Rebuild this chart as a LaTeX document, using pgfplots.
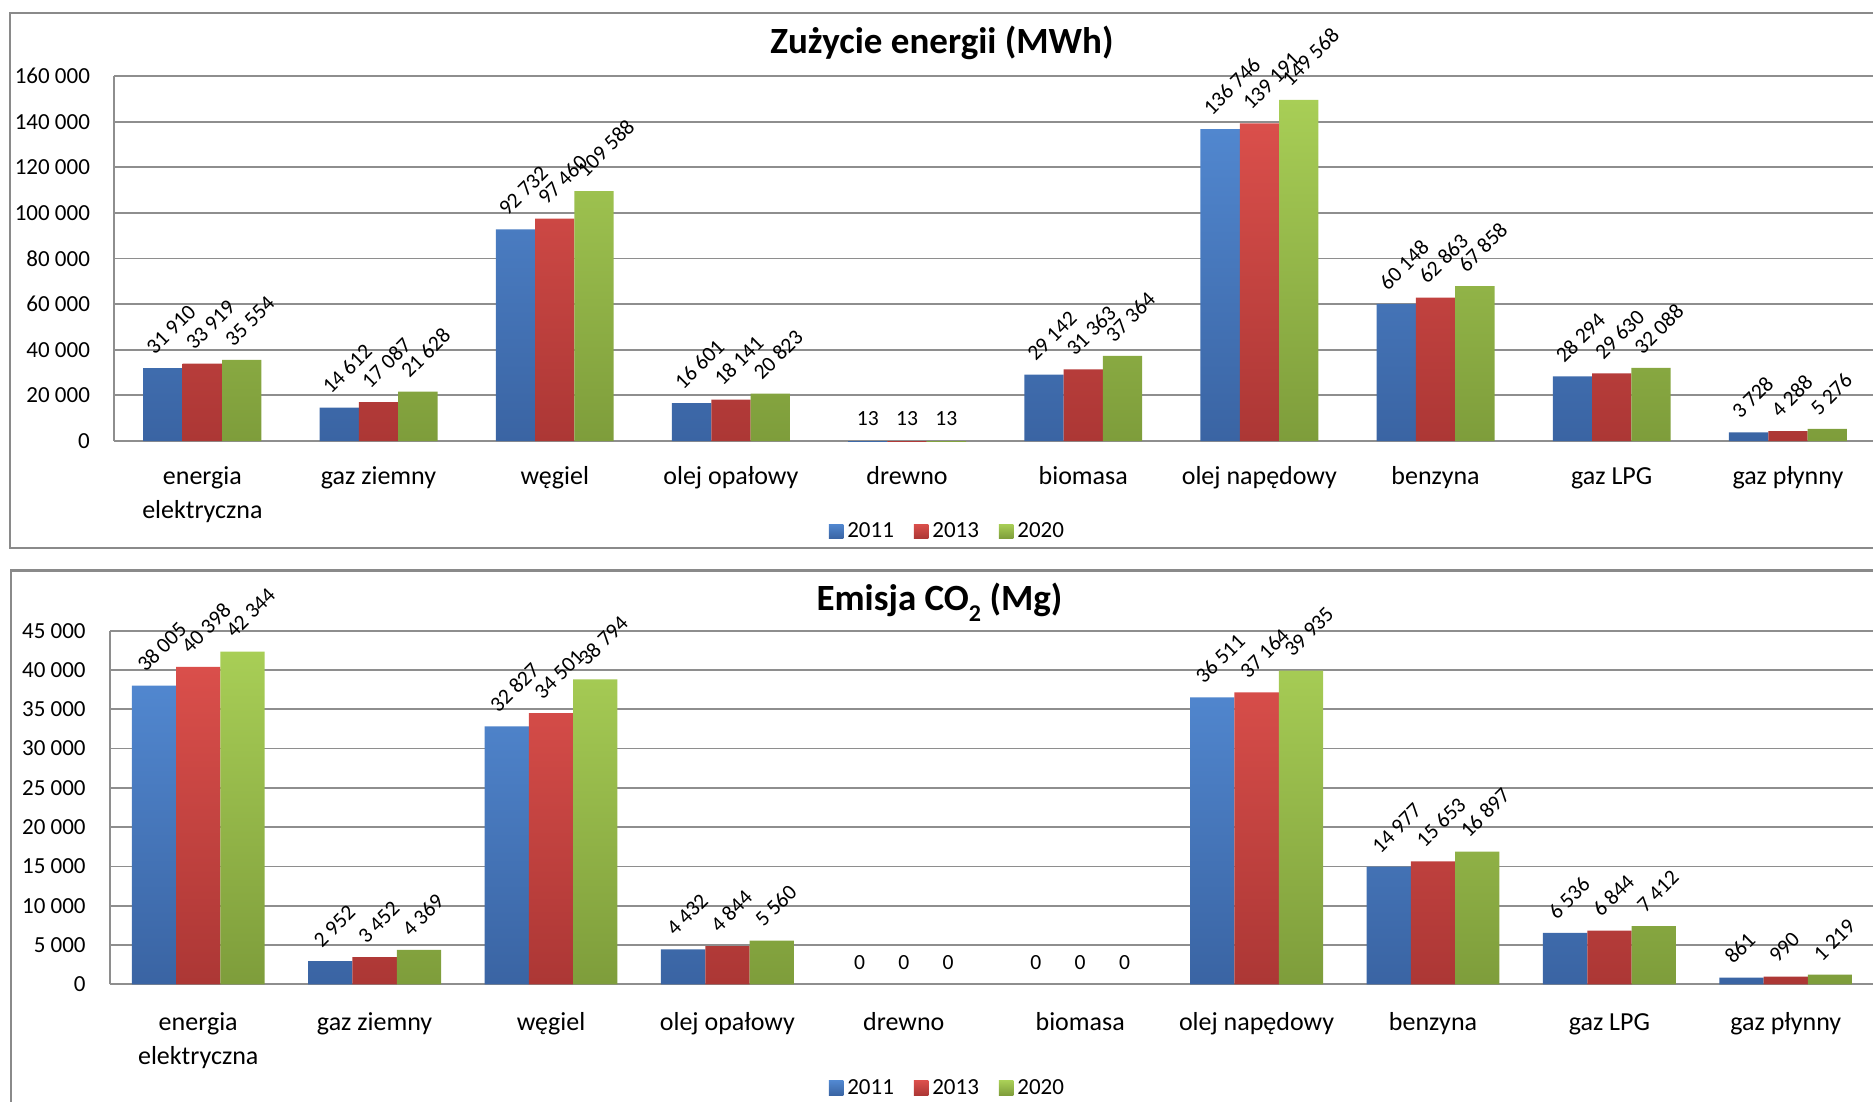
\documentclass[border=0pt]{standalone}
\usepackage{fontspec}
\setmainfont{Carlito}
\usepackage{pgfplots}
\pgfplotsset{compat=1.18}
\usepackage{pgfplotstable}

\definecolor{bT}{HTML}{5187CF}
\definecolor{bB}{HTML}{3A64A3}
\definecolor{rT}{HTML}{DA4F4B}
\definecolor{rB}{HTML}{AC3735}
\definecolor{gT}{HTML}{A8CE56}
\definecolor{gB}{HTML}{7E9D3B}
\definecolor{frame}{HTML}{8A8A8A}
\definecolor{grid}{HTML}{8E8E8E}

% Zużycie energii (MWh)
\pgfplotstableread{
x a b c
0 31910 33919 35554
1 14612 17087 21628
2 92732 97460 109588
3 16601 18141 20823
5 29142 31363 37364
6 136746 139191 149568
7 60148 62863 67858
8 28294 29630 32088
9 3728 4288 5276
}\enMain
\pgfplotstableread{
x a b c
4 13 13 13
}\enFlat

% Emisja CO2 (Mg)
\pgfplotstableread{
x a b c
0 38005 40398 42344
1 2952 3452 4369
2 32827 34501 38794
3 4432 4844 5560
6 36511 37164 39935
7 14977 15653 16897
8 6536 6844 7412
9 861 990 1219
}\coMain
\pgfplotstableread{
x a b c
4 0 0 0
5 0 0 0
}\coFlat

\pgfplotsset{
  panel/.style={
    scale only axis,
    anchor=south west,
    xmin=-0.5, xmax=9.5, ymin=0,
    enlargelimits=false,
    clip=false,
    ybar=0pt,
    xtick={0,...,9},
    xticklabels={{\begin{tabular}[t]{@{}c@{}}energia\\elektryczna\end{tabular}},gaz ziemny,węgiel,olej opałowy,drewno,biomasa,olej napędowy,benzyna,gaz LPG,gaz płynny},
    xticklabel style={font=\fontsize{13}{17}\selectfont, anchor=base, inner sep=0pt},
    yticklabel style={font=\fontsize{11.5}{13}\selectfont, anchor=east, inner sep=0pt, xshift=-12pt},
    scaled y ticks=false,
    /pgf/number format/fixed,
    /pgf/number format/precision=0,
    /pgf/number format/1000 sep={\ },
    /pgf/number format/assume math mode=true,
    major tick length=0pt,
    axis x line*=bottom,
    axis y line*=left,
    axis line style={-, draw=grid, line width=0.9pt},
    ymajorgrids,
    major grid style={draw=grid, line width=0.9pt},
    legend image code/.code={\path[##1] (0pt,-3.6pt) rectangle (7.2pt,3.6pt);},
    legend style={draw=none, fill=none, legend columns=-1, anchor=center,
      font=\fontsize{11.5}{13}\selectfont, inner sep=0pt,
      /tikz/every even column/.append style={column sep=8pt}},
  },
  rotlab/.style={nodes near coords,
    every node near coord/.append style={font=\fontsize{10.8}{12}\selectfont, inner sep=0pt,
      anchor=south west, xshift=-4pt, yshift=6pt, rotate=45}},
  horlab/.style={nodes near coords,
    every node near coord/.append style={font=\fontsize{10.8}{12}\selectfont, inner sep=0pt,
      anchor=south, yshift=7.3pt}},
  s1/.style={draw=none, top color=bT, bottom color=bB},
  s2/.style={draw=none, top color=rT, bottom color=rB},
  s3/.style={draw=none, top color=gT, bottom color=gB},
}

\begin{document}
\begin{tikzpicture}
\useasboundingbox (0,0) rectangle (936.5pt,-551pt);
\draw[frame, line width=1.1pt] (5pt,-6.35pt) rectangle (960pt,-274pt);
\draw[frame, line width=1.1pt] (5.5pt,-285.25pt) rectangle (960pt,-600pt);

\node[anchor=base, font=\fontsize{18.5}{22}\selectfont\bfseries] at (471pt,-26.75pt) {Zużycie energii (MWh)};
\node[anchor=base, font=\fontsize{18.5}{22}\selectfont\bfseries] at (469.75pt,-305pt) {Emisja CO\raisebox{-0.3em}{\fontsize{12}{12}\selectfont 2} (Mg)};

% top panel
\begin{axis}[panel,
  at={(57.15pt,-220.5pt)},
  width=880.85pt, height=182.5pt,
  ymax=160000, ytick={0,20000,...,160000},
  bar width=19.65pt,
  xticklabel style={yshift=-21.8pt},
  legend style={at={(axis description cs:0.4735,-0.2475)}},
]
\addplot[s1, bar shift=-19.65pt, rotlab] table[x=x,y=a] {\enMain};
\addplot[s2, bar shift=0pt, rotlab] table[x=x,y=b] {\enMain};
\addplot[s3, bar shift=19.65pt, rotlab] table[x=x,y=c] {\enMain};
\addplot[s1, bar shift=-19.65pt, horlab, forget plot] table[x=x,y=a] {\enFlat};
\addplot[s2, bar shift=0pt, horlab, forget plot] table[x=x,y=b] {\enFlat};
\addplot[s3, bar shift=19.65pt, horlab, forget plot] table[x=x,y=c] {\enFlat};
\legend{2011,2013,2020}
\end{axis}

% bottom panel
\begin{axis}[panel,
  at={(55pt,-492.15pt)},
  width=882pt, height=176.8pt,
  ymax=45000, ytick={0,5000,...,45000},
  bar width=22.15pt,
  xticklabel style={yshift=-23.2pt},
  legend style={at={(axis description cs:0.4753,-0.2935)}},
]
\addplot[s1, bar shift=-22.15pt, rotlab] table[x=x,y=a] {\coMain};
\addplot[s2, bar shift=0pt, rotlab] table[x=x,y=b] {\coMain};
\addplot[s3, bar shift=22.15pt, rotlab] table[x=x,y=c] {\coMain};
\addplot[s1, bar shift=-22.15pt, horlab, forget plot] table[x=x,y=a] {\coFlat};
\addplot[s2, bar shift=0pt, horlab, forget plot] table[x=x,y=b] {\coFlat};
\addplot[s3, bar shift=22.15pt, horlab, forget plot] table[x=x,y=c] {\coFlat};
\legend{2011,2013,2020}
\end{axis}
\end{tikzpicture}
\end{document}
